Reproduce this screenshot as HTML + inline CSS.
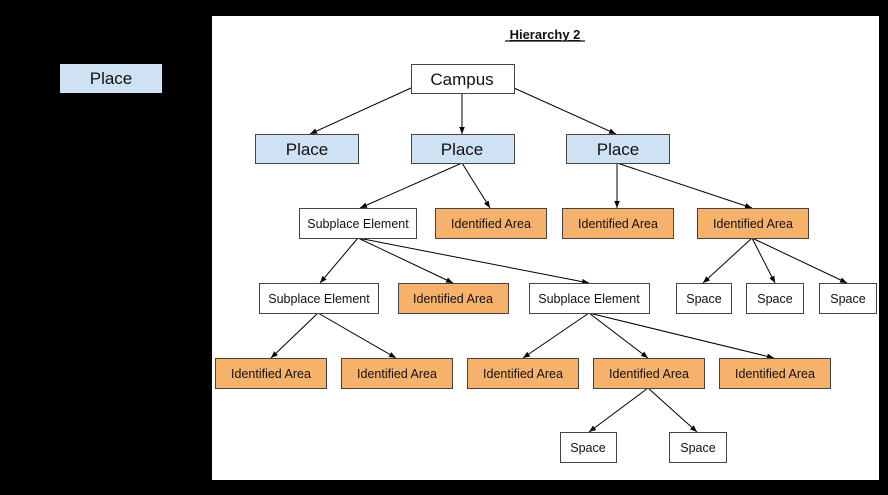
<!DOCTYPE html>
<html><head><meta charset="utf-8"><style>
html,body{margin:0;padding:0;background:#000;}
svg{display:block;}
text{font-family:"Liberation Sans",Arial,sans-serif;fill:#111;}
</style></head><body>
<svg width="888" height="495" viewBox="0 0 888 495" xmlns="http://www.w3.org/2000/svg">
<defs>
<marker id="a" viewBox="0 0 10 10" refX="10" refY="5" markerWidth="7" markerHeight="7" orient="auto-start-reverse" markerUnits="userSpaceOnUse">
<path d="M0,1 L10,5 L0,9 z" fill="#000"/>
</marker>
</defs>
<rect x="0" y="0" width="888" height="495" fill="#000"/>
<rect x="212" y="16" width="667" height="464" fill="#fff"/>
<text x="545" y="39" font-size="13" font-weight="bold" text-anchor="middle" text-decoration="underline">Hierarchy 2</text>
<line x1="505" y1="41" x2="585" y2="41" stroke="#111" stroke-width="1.2"/>

<g stroke="#000" stroke-width="1" marker-end="url(#a)" fill="none">
<line x1="411" y1="88" x2="310" y2="134"/>
<line x1="462" y1="93" x2="462" y2="134"/>
<line x1="514" y1="88" x2="616" y2="134"/>
<line x1="462" y1="163" x2="360" y2="208"/>
<line x1="462" y1="163" x2="490" y2="208"/>
<line x1="617" y1="163" x2="617" y2="208"/>
<line x1="617" y1="163" x2="752" y2="208"/>
<line x1="358" y1="238" x2="320" y2="283"/>
<line x1="358" y1="238" x2="453" y2="283"/>
<line x1="358" y1="238" x2="589" y2="283"/>
<line x1="752" y1="238" x2="703" y2="283"/>
<line x1="752" y1="238" x2="775" y2="283"/>
<line x1="752" y1="238" x2="847" y2="283"/>
<line x1="318" y1="313" x2="271" y2="358"/>
<line x1="318" y1="313" x2="396" y2="358"/>
<line x1="589" y1="313" x2="523" y2="358"/>
<line x1="589" y1="313" x2="648" y2="358"/>
<line x1="589" y1="313" x2="774" y2="358"/>
<line x1="648" y1="388" x2="589" y2="432"/>
<line x1="648" y1="388" x2="697" y2="432"/>
</g>

<g stroke="#444" stroke-width="1">
<rect x="60.5" y="64.5" width="101" height="28" fill="#cfe2f3" stroke="#cfe2f3"/>
<rect x="411.5" y="64.5" width="103" height="29" fill="#fff"/>
<rect x="255.5" y="134.5" width="103" height="29" fill="#cfe2f3"/>
<rect x="411.5" y="134.5" width="103" height="29" fill="#cfe2f3"/>
<rect x="566.5" y="134.5" width="103" height="29" fill="#cfe2f3"/>

<rect x="299.5" y="208.5" width="117" height="30" fill="#fff"/>
<rect x="435.5" y="208.5" width="111" height="30" fill="#f6b26b"/>
<rect x="562.5" y="208.5" width="111" height="30" fill="#f6b26b"/>
<rect x="697.5" y="208.5" width="111" height="30" fill="#f6b26b"/>

<rect x="259.5" y="283.5" width="119" height="30" fill="#fff"/>
<rect x="398.5" y="283.5" width="110" height="30" fill="#f6b26b"/>
<rect x="529.5" y="283.5" width="120" height="30" fill="#fff"/>
<rect x="676.5" y="283.5" width="55" height="30" fill="#fff"/>
<rect x="746.5" y="283.5" width="57" height="30" fill="#fff"/>
<rect x="819.5" y="283.5" width="57" height="30" fill="#fff"/>

<rect x="215.5" y="358.5" width="111" height="30" fill="#f6b26b"/>
<rect x="341.5" y="358.5" width="111" height="30" fill="#f6b26b"/>
<rect x="467.5" y="358.5" width="111" height="30" fill="#f6b26b"/>
<rect x="593.5" y="358.5" width="111" height="30" fill="#f6b26b"/>
<rect x="719.5" y="358.5" width="111" height="30" fill="#f6b26b"/>

<rect x="560.5" y="432.5" width="56" height="30" fill="#fff"/>
<rect x="669.5" y="432.5" width="57" height="30" fill="#fff"/>
</g>

<g font-size="17" text-anchor="middle">
<text x="111" y="84">Place</text>
<text x="462" y="85">Campus</text>
<text x="307" y="155">Place</text>
<text x="462" y="155">Place</text>
<text x="618" y="155">Place</text>
</g>
<g font-size="12.5" text-anchor="middle">
<text x="358" y="228">Subplace Element</text>
<text x="491" y="228">Identified Area</text>
<text x="618" y="228">Identified Area</text>
<text x="753" y="228">Identified Area</text>
<text x="319" y="303">Subplace Element</text>
<text x="453" y="303">Identified Area</text>
<text x="589" y="303">Subplace Element</text>
<text x="704" y="303">Space</text>
<text x="775" y="303">Space</text>
<text x="848" y="303">Space</text>
<text x="271" y="378">Identified Area</text>
<text x="397" y="378">Identified Area</text>
<text x="523" y="378">Identified Area</text>
<text x="649" y="378">Identified Area</text>
<text x="775" y="378">Identified Area</text>
<text x="588" y="452">Space</text>
<text x="698" y="452">Space</text>
</g>
</svg>
</body></html>
